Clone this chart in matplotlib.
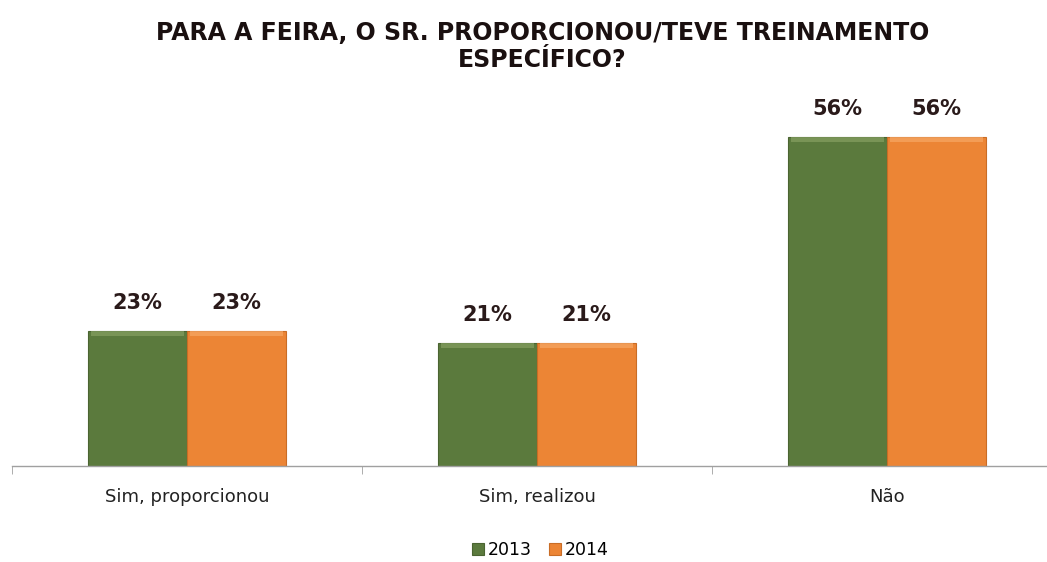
import matplotlib
matplotlib.use("Agg")
import matplotlib.pyplot as plt
import numpy as np

categories = ["Sim, proporcionou", "Sim, realizou", "Não"]
years = ["2013", "2014"]
values_2013 = [23, 21, 56]
values_2014 = [23, 21, 56]

colors = {"2013": "#5b7a3d", "2014": "#ec8535"}
highlights = {"2013": "#86a062", "2014": "#f6a865"}
shades = {"2013": "#4a6431", "2014": "#c96d26"}

W, H = 1047, 562
fig = plt.figure(figsize=(W / 100, H / 100), dpi=100)
fig.patch.set_facecolor("white")

# axes spanning the baseline at y=466 px, xlim clipped at the right figure edge
left_px, right_px = 12, 1062
base_px, top_px = 466, 137
ymax_val = 56
px_per_unit = (base_px - top_px) / ymax_val
ytop_px = 60
ax = fig.add_axes([left_px / W, 1 - base_px / H,
                   (right_px - left_px) / W, (base_px - ytop_px) / H])
ax.set_xlim(-0.5, 2.5)
ax.set_ylim(0, (base_px - ytop_px) / px_per_unit)

x = np.arange(len(categories))
bw = 99 / 350

for i, (yr, vals) in enumerate(zip(years, [values_2013, values_2014])):
    offs = (i - 0.5) * bw
    ax.bar(x + offs, vals, width=bw, color=colors[yr], edgecolor=shades[yr],
           linewidth=0.8, label=yr, zorder=2)
    # bevel highlight along the top edge
    ax.bar(x + offs, [0.9] * len(vals), bottom=np.array(vals) - 0.9,
           width=bw * 0.94, color=highlights[yr], linewidth=0, zorder=3,
           alpha=0.7)
    for xi, v in zip(x + offs, vals):
        ax.text(xi, v + 3.0, f"{v}%", ha="center", va="bottom",
                fontsize=15, fontweight="bold", color="#2a1a1a")

for s in ["top", "right", "left"]:
    ax.spines[s].set_visible(False)
ax.spines["bottom"].set_color("#a0a0a0")
ax.spines["bottom"].set_linewidth(1.0)
ax.set_yticks([])
ax.set_xticks(x)
ax.set_xticklabels(categories, fontsize=13, color="#222222")
ax.tick_params(axis="x", which="major", length=0, pad=16)
ax.set_xticks([-0.5, 0.5, 1.5, 2.5], minor=True)
ax.tick_params(axis="x", which="minor", length=6, color="#a0a0a0")

fig.text(0.518, 1 - 33 / H, "PARA A FEIRA, O SR. PROPORCIONOU/TEVE TREINAMENTO",
         ha="center", va="center", fontsize=17, fontweight="bold",
         color="#1a1010")
fig.text(0.518, 1 - 60 / H, "ESPECÍFICO?", ha="center", va="center",
         fontsize=17, fontweight="bold", color="#1a1010")

handles, labels = ax.get_legend_handles_labels()
fig.legend(handles, labels, loc="center", bbox_to_anchor=(540 / W, 1 - 550 / H),
           ncol=2, frameon=False, fontsize=12.5, handlelength=0.7,
           handleheight=0.7, handletextpad=0.2, columnspacing=1.0)

fig.savefig("out.png", dpi=100, facecolor="white")
